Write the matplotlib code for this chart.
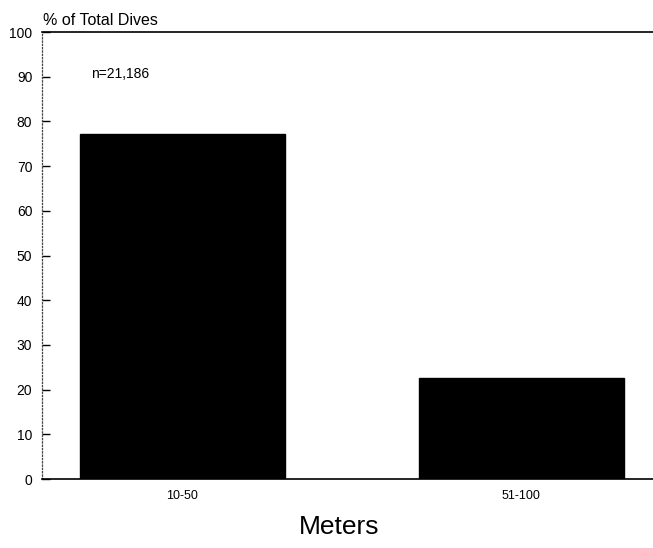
import matplotlib
matplotlib.use('Agg')
import matplotlib.pyplot as plt

# depth bins and share of dives
categories = ['10-50', '51-100']
percent = [77.2, 22.6]
yticks = list(range(0, 101, 10))

plt.rcParams['font.family'] = ['Liberation Sans', 'DejaVu Sans']

fig = plt.figure(figsize=(6.53, 5.48), dpi=100)
ax = fig.add_axes([0.0643, 0.1259, 0.9357, 0.8157])

x = range(len(categories))
ax.bar(x, percent, width=0.605, color='black', edgecolor='black')

ax.set_xlim(-0.414, 1.388)
ax.set_ylim(0, 100)
ax.set_yticks(yticks)
ax.set_xticks(list(x))
ax.set_xticklabels(categories, fontsize=9)

ax.spines['right'].set_visible(False)
ax.spines['left'].set_linestyle(':')
ax.spines['left'].set_linewidth(0.9)
ax.spines['left'].set_color('#444444')
ax.spines['top'].set_linewidth(1.2)
ax.spines['bottom'].set_linewidth(1.2)

ax.tick_params(axis='y', direction='in', length=6, width=1, pad=7, labelsize=10)
ax.tick_params(axis='x', length=0, pad=8)

fig.text(0.066, 0.962, '% of Total Dives', fontsize=11.5, va='center', ha='left')
ax.text(0.08, 90.5, 'n=21,186', fontsize=10, va='center', ha='left',
        transform=ax.get_yaxis_transform())
fig.text(0.52, 0.038, 'Meters', fontsize=19, ha='center', va='center')

fig.savefig('out.png', dpi=100)
